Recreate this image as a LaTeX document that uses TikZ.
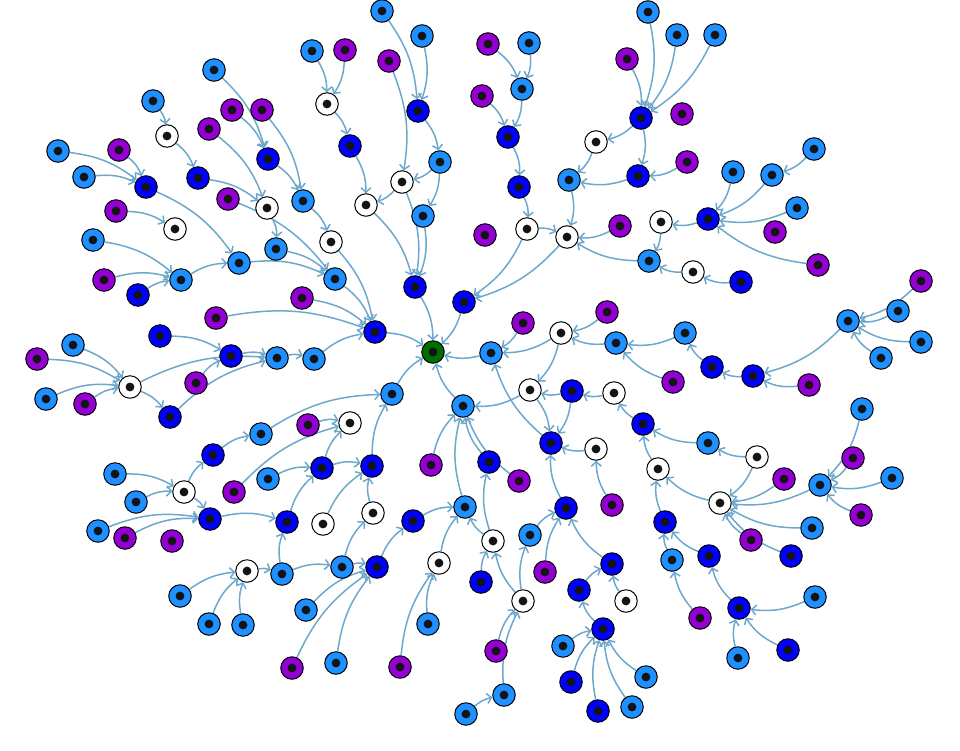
\documentclass[tikz,border=0pt]{standalone}
\usetikzlibrary{arrows.meta,backgrounds}
\definecolor{colL}{RGB}{30,144,255}
\definecolor{colB}{RGB}{0,0,255}
\definecolor{colP}{RGB}{148,0,211}
\definecolor{colW}{RGB}{255,255,255}
\definecolor{colG}{RGB}{0,110,0}
\definecolor{cEdge}{RGB}{108,168,205}
\tikzset{
  vtx/.style={circle, draw=black, line width=1pt, minimum size=22.5pt, inner sep=0pt,
    path picture={\fill[black!92] (path picture bounding box.center) circle (4.4pt);}},
  lnk/.style={draw=cEdge, line width=1.5pt, -{Straight Barb[length=4.5pt,width=10pt]}, bend left=15}
}
\begin{document}
\begin{tikzpicture}[x=1pt,y=-1pt]
\useasboundingbox (0,0) rectangle (960,750);
\foreach \n/\c/\x/\y in {
g0/G/433/352,
a1/L/214/70, a2/P/232/110, a3/P/209/129, a4/L/153/101, a5/W/167/136, a6/L/58/151, a7/P/119/150,
a8/L/84/177, a9/B/146/187, a10/B/198/178, a11/P/228/199, a12/P/116/211, a13/W/175/229, a14/L/93/240,
a15/L/239/263, a16/P/262/110, a17/B/268/159, a18/L/303/201, a19/W/267/208, a20/L/276/249, a21/W/331/242, a22/L/335/279,
b1/L/382/11, b2/L/422/36, b3/L/312/51, b4/P/345/50, b5/P/389/61, b6/W/327/104, b7/B/418/111, b8/B/350/146,
b9/L/440/162, b10/W/402/182, b11/W/366/205, b12/L/423/216, b13/B/415/287,
c1/P/488/44, c2/L/529/43, c3/P/482/96, c4/L/522/89, c5/B/508/137, c6/B/519/187, c7/W/527/229, c8/P/485/235,
c9/L/648/12, c10/L/677/35, c11/L/715/35, c12/P/627/59, c13/B/641/118, c14/P/682/114, c15/W/596/142, c16/B/638/176,
c17/P/687/162, c18/L/569/180, c19/W/567/237, c20/P/620/226, c21/B/464/302,
d1/L/814/149, d2/L/733/172, d3/L/772/175, d4/L/797/208, d5/P/775/232, d6/B/708/219, d7/W/661/222, d8/P/818/265,
d9/L/649/261, d10/W/693/272, d11/B/741/282,
e1/P/921/281, e2/L/898/311, e3/L/848/321, e4/L/921/342, e5/L/881/358, e6/B/753/376, e7/P/809/385, e8/B/712/367,
e9/L/685/333, e10/P/673/382, e11/L/616/343, e12/P/607/312, e13/W/561/333, e14/P/523/323, e15/L/491/353,
f1/W/530/390, f2/B/572/391, f3/W/614/393, f4/B/643/424, f5/L/708/443, f6/W/757/457, f7/B/551/443, f8/W/596/449,
f9/W/658/469, f10/W/720/503, f11/P/612/505, f12/B/566/508, f13/P/519/481, f14/B/489/462, f15/L/463/406,
h1/L/862/409, h2/P/853/458, h3/L/892/478, h4/P/784/479, h5/L/820/485, h6/P/861/515, h7/L/812/528, h8/P/751/540,
h9/B/791/556, h10/B/709/556, h11/L/815/597, h12/B/739/608, h13/B/788/650, h14/L/738/658, h15/B/665/522, h16/L/672/560, h17/P/700/618,
i1/L/530/535, i2/P/545/572, i3/B/612/564, i4/W/626/601, i5/B/579/590, i6/B/603/629, i7/L/563/646, i8/B/571/682,
i9/B/598/711, i10/L/632/707, i11/L/646/677, i12/W/523/601, i13/W/493/541, i14/B/481/582, i15/P/496/651, i16/L/504/695,
i17/L/466/714, i18/L/465/507,
j1/B/287/522, j2/W/323/524, j3/W/373/513, j4/B/413/521, j5/W/247/571, j6/L/282/574, j7/L/342/567, j8/B/377/567,
j9/W/439/563, j10/L/306/610, j11/L/243/625, j12/L/428/624, j13/P/292/668, j14/L/336/663, j15/P/400/667, j16/L/209/624, j17/L/180/596,
k1/L/136/502, k2/W/184/492, k3/P/234/492, k4/B/210/519, k5/L/98/531, k6/P/125/538, k7/P/172/541, k8/L/115/474,
k9/B/213/455, k10/L/261/434, k11/P/308/425, k12/W/350/423, k13/L/268/479, k14/B/322/468, k15/B/372/466, k16/L/392/394, k17/P/431/465,
m1/P/104/280, m2/L/181/280, m3/B/138/295, m4/P/216/318, m5/B/160/336, m6/B/231/356, m7/L/73/345, m8/P/37/359,
m9/W/130/387, m10/L/46/399, m11/P/85/404, m12/P/196/383, m13/B/170/417, m14/L/277/358, m15/L/314/359, m16/P/302/298, m17/B/375/332}
  {\node[vtx, fill=col\c] (\n) at (\x,\y) {};}
\begin{pgfonlayer}{background}
\foreach \s/\t in {
a4/a5, a5/a10, a6/a9, a8/a9, a7/a9, a9/a15, a12/a13, a14/m2, a10/a19, a3/a19, a11/a22, a1/a17, a2/a17, a17/a18,
a16/a18, a19/a20, a18/a21, a20/a22, a15/a22, a21/m17, a22/m17,
b3/b6, b4/b6, b6/b8, b8/b11, b1/b7, b2/b7, b7/b9, b9/b10, b9/b12, b5/b10, b10/b11, b11/b13, b10/b13, b12/b13, b13/g0,
c1/c4, c2/c4, c4/c5, c3/c5, c5/c6, c6/c7, c7/c19, c7/c21, c9/c13, c10/c13, c11/c13, c12/c13, c13/c15, c13/c16,
c15/c18, c16/c18, c17/c16, c18/c19, c20/c19, c19/c21, c21/g0,
d9/c19, d6/d7, d7/d9, d2/d6, d3/d6, d4/d6, d8/d6, d1/d3, d11/d10, d10/d9,
e1/e3, e2/e3, e4/e3, e5/e3, e3/e6, e7/e6, e6/e8, e8/e9, e9/e11, e10/e11, e11/e13, e12/e13, e13/e15, e14/e15, e15/g0, e13/f1,
f1/f15, f1/f7, f2/f1, f2/f7, f3/f2, f4/f3, f5/f4, f6/f5, f6/f10, f9/f4, f10/f9, f8/f7, f11/f8, f12/f7, f7/e15,
f13/f15, f14/f15, f15/g0, h15/f9,
h1/h5, h2/h5, h3/h5, h6/h5, h5/f10, h4/f10, h7/f10, h8/f10, h9/f10, h12/h10, h11/h12, h13/h12, h14/h12, h10/h15, h16/h15, h17/h16,
i1/f12, i2/f12, i3/f12, i12/i1, i12/i13, i4/i3, i5/i3, i6/i5, i7/i6, i8/i6, i9/i6, i10/i6, i11/i6, i15/i12, i16/i12,
i17/i16, i13/i18, i13/f14, i14/i13, i18/f15,
j1/k14, j2/k15, j3/k15, j7/j3, j5/j6, j6/j1, j6/j7, j7/j8, j10/j8, j13/j8, j14/j8, j8/j4, j4/i18, j9/i18, j12/j9,
j15/j9, j11/j5, j16/j5, j17/j5, k4/j1,
k1/k2, k2/k4, k5/k4, k6/k4, k8/k2, k2/k9, k9/k10, k10/k16, k11/k12, k3/k12, k14/k12, k13/k14, k14/k15, k15/k16, k16/g0, k17/f15,
m1/m2, m3/m2, m2/a15, m4/m17, m5/m6, m7/m9, m8/m9, m10/m9, m11/m9, m9/m13, m9/m14, m12/m6, m13/m14, m6/m14,
m14/m15, m15/m17, m16/m17, m17/g0}
  {\draw[lnk] (\s) to (\t);}
\end{pgfonlayer}
\end{tikzpicture}
\end{document}
